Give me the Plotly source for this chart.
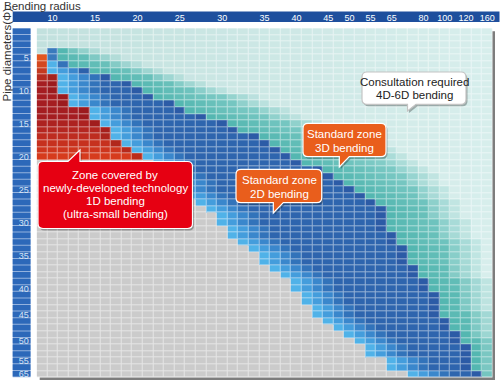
import plotly.graph_objects as go

# ---------------- data ----------------
radius_labels = ["10", "15", "20", "25", "30", "35", "40", "45", "50", "55", "65", "80", "100", "120", "160"]
radius_cols = [1, 5, 9, 13, 17, 21, 24, 27, 29, 31, 33, 36, 38, 40, 42]
diameter_labels = ["5", "10", "15", "20", "25", "30", "35", "40", "45", "50", "55", "65"]
diameter_rows = [4, 9, 14, 19, 24, 29, 34, 39, 43, 47, 50, 52]

# zone boundaries per grid row (rows 0..52); None = whole row in consultation zone
red_end = [0, 0, 0, 0, 1, 1, 1, 2, 2, 2, 3, 3, 5, 5, 6, 7, 7, 8, 9, 10] + [0] * 33
blue_start = [None, None, None, 1, 1, 1, 1, 2, 2, 2, 3, 3, 5, 5, 6, 7, 7, 8, 9, 10,
              11, 11, 12, 13, 13, 14, 15, 16, 17, 17, 18, 18, 19, 20, 21, 21, 22, 23, 24, 24,
              25, 25, 26, 26, 27, 28, 29, 30, 31, 31, 33, 33, 35]
teal_start = [None, None, None, 2, 2, 3, 5, 7, 9, 10, 11, 13, 14, 16, 18, 19, 21, 22, 23, 24,
              25, 27, 28, 29, 30, 31, 32, 33, 33, 33, 33, 34, 34, 35, 35, 35, 36, 36, 37, 37,
              38, 38, 38, 38, 39, 39, 40, 40, 41, 41, 41, 41, 42]
pale_start = [None, None, None, 6, 8, 10, 12, 14, 16, 18, 21, 22, 24, 25, 27, 29, 31, 33, 34, 35,
              36, 37, 38, 38, 39, 39, 40, 40, 40, 41, 41, 41, 42, 42, 42, 42, 42, 42, 43, 43,
              43, 43, 43, 44, 44, 44, 44, 45, 45, 45, 45, 45, 45]

# ---------------- geometry / style ----------------
W, H = 501, 385
GX0, GX1 = 36.7, 492.5
GY0, GY1 = 28.3, 377.5
NCOL, NROW = 43, 53
RH = (GY1 - GY0) / NROW
FONT = "Liberation Sans, Arial, sans-serif"


def P(x, y):
    return x / W, 1 - y / H


def rgb(h):
    h = h.lstrip('#')
    return tuple(int(h[i:i + 2], 16) for i in (0, 2, 4))


def mix(a, b, t):
    t = max(0.0, min(1.0, t))
    A, B = rgb(a), rgb(b)
    return '#%02x%02x%02x' % tuple(round(A[i] + (B[i] - A[i]) * t) for i in range(3))


PALE_L, PALE_R = '#c2e1de', '#d7eeec'
TEAL_DEEP, TEAL_LIGHT = '#54b7b1', '#82ccc7'
BLUES = ['#50b2e8', '#449ddc', '#3a87cc', '#3273ba', '#2e65ae']
BLUE_EDGE = '#2a55a1'
GREY = '#cbcbcb'
ORANGE, DARK_RED, BRIGHT_RED, EDGE_RED = '#e2561f', '#a51d21', '#d63b1d', '#8a1418'

first_red = min(r for r in range(NROW) if red_end[r] > 0)


def pale(c):
    return mix(PALE_L, PALE_R, c / (NCOL - 1))


def red(r, c):
    if r <= first_red + 4:
        base = mix(ORANGE, DARK_RED, (r - first_red) / 4)
    elif r <= 13:
        base = DARK_RED
    else:
        base = mix(DARK_RED, BRIGHT_RED, (r - 13) / 6)
    if red_end[r] > 1 and c == red_end[r] - 1:
        base = mix(base, EDGE_RED, 0.35)
    return base


def cell_color(r, c):
    if blue_start[r] is None:
        return pale(c)
    if c < red_end[r]:
        return red(r, c)
    if c < blue_start[r]:
        return GREY if r >= first_red else pale(c)
    if c < teal_start[r]:
        d = c - blue_start[r]
        col = BLUES[min(d, len(BLUES) - 1)]
        if c == teal_start[r] - 1:
            col = mix(col, BLUE_EDGE, 0.6)
        return col
    t = c - teal_start[r]
    base = mix(TEAL_DEEP, TEAL_LIGHT, t / 7)
    p = pale_start[r] - c
    if p <= 0:
        return pale(c)
    if p <= 3:
        return mix(base, pale(c), (4 - p) / 4)
    return base


grid = [[cell_color(r, c) for c in range(NCOL)] for r in range(NROW)]
under = [[mix(col, '#ffffff', 0.5) for col in row] for row in grid]


def discrete(g):
    uniq = sorted(set(col for row in g for col in row))
    idx = {c: i for i, c in enumerate(uniq)}
    n = len(uniq)
    cs = []
    for i, c in enumerate(uniq):
        cs.append([i / n, c])
        cs.append([(i + 1) / n, c])
    z = [[idx[c] + 0.5 for c in row] for row in g]
    return z, cs, n


fig = go.Figure()
for g, gap in ((under, 0), (grid, 1)):
    z, cs, n = discrete(g)
    fig.add_trace(go.Heatmap(z=z, x=list(range(NCOL)), y=list(range(NROW)), colorscale=cs,
                             zmin=0, zmax=n, showscale=False, xgap=gap, ygap=gap,
                             hoverinfo='skip'))

# tick pointer triangles under the top bar
fig.add_trace(go.Scatter(x=radius_cols, y=[-1.05] * len(radius_cols), mode='markers',
                         marker=dict(symbol='triangle-down', size=7, color='#1e4f9d'),
                         cliponaxis=False, hoverinfo='skip'))

shapes = []
# top bar
x0, y0 = P(12.7, 11.5)
x1, y1 = P(499.5, 22)
shapes.append(dict(type='rect', xref='paper', yref='paper', x0=x0, y0=y0, x1=x1, y1=y1,
                   fillcolor='#1e4f9d', line=dict(width=0), layer='below'))
# left bar background + row segments
lx0, _ = P(12.7, 0)
lx1, _ = P(30.5, 0)
shapes.append(dict(type='rect', xref='paper', yref='y', x0=lx0, x1=lx1, y0=-0.5, y1=NROW - 0.5,
                   fillcolor='#93b2de', line=dict(width=0), layer='below'))
for r in range(NROW):
    shapes.append(dict(type='rect', xref='paper', yref='y', x0=lx0, x1=lx1,
                       y0=r - 0.5, y1=r + 0.5 - 1.0 / RH,
                       fillcolor='#2c68b9', line=dict(width=0), layer='below'))
# grid drop shadow
sx0, sy0 = P(GX1, GY0 + 3)
sx1, sy1 = P(GX1 + 2.5, GY1 + 2.5)
shapes.append(dict(type='rect', xref='paper', yref='paper', x0=sx0, y0=sy0, x1=sx1, y1=sy1,
                   fillcolor='#7d7d7d', line=dict(width=0)))
bx0, by0 = P(GX0 + 3, GY1)
shapes.append(dict(type='rect', xref='paper', yref='paper', x0=bx0, y0=by0, x1=sx1, y1=sy1,
                   fillcolor='#7d7d7d', line=dict(width=0)))


def bubble_path(box, tail, r=5, dx=0.0, dy=0.0):
    x0, y0, x1, y1 = box
    side, a, b, tx, ty = tail

    def f(x, y):
        X, Y = P(x + dx, y + dy)
        return f"{X:.5f},{Y:.5f}"

    d = f"M{f(x0 + r, y0)}"
    if side == 'top':
        d += f" L{f(a, y0)} L{f(tx, ty)} L{f(b, y0)}"
    d += f" L{f(x1 - r, y0)} Q{f(x1, y0)} {f(x1, y0 + r)} L{f(x1, y1 - r)} Q{f(x1, y1)} {f(x1 - r, y1)}"
    if side == 'bottom':
        d += f" L{f(b, y1)} L{f(tx, ty)} L{f(a, y1)}"
    d += f" L{f(x0 + r, y1)} Q{f(x0, y1)} {f(x0, y1 - r)} L{f(x0, y0 + r)} Q{f(x0, y0)} {f(x0 + r, y0)} Z"
    return d


callouts = [
    dict(box=(38, 161.5, 192.5, 228.5), tail=('top', 68, 80, 80, 150), fill='#e60012', edge='#ffffff',
         ink='#ffffff', lines=['Zone covered by', 'newly-developed technology', '1D bending',
                               '(ultra-small bending)'], cx=115, ys=[175, 188, 201, 214]),
    dict(box=(303, 123.3, 386, 156.7), tail=('bottom', 339.3, 349.3, 339.3, 167), fill='#e95e1c',
         edge='#ffffff', ink='#ffffff', lines=['Standard zone', '3D bending'], cx=344.5, ys=[134.5, 148]),
    dict(box=(236, 169.3, 321.7, 202.7), tail=('bottom', 273.3, 283.3, 273.3, 213), fill='#e95e1c',
         edge='#ffffff', ink='#ffffff', lines=['Standard zone', '2D bending'], cx=279, ys=[180, 193.5]),
    dict(box=(362, 72, 466, 104.3), tail=('bottom', 407.5, 416, 407.5, 111), fill='#ffffff',
         edge='#c4c4c4', ink='#222222', lines=['Consultation required', '4D-6D bending'], cx=414, ys=[81.5, 95]),
]

annotations = []
for cb in callouts:
    shapes.append(dict(type='path', xref='paper', yref='paper',
                       path=bubble_path(cb['box'], cb['tail'], dx=1.5, dy=2),
                       fillcolor='rgba(0,0,0,0.28)', line=dict(width=0)))
    shapes.append(dict(type='path', xref='paper', yref='paper',
                       path=bubble_path(cb['box'], cb['tail']),
                       fillcolor=cb['fill'], line=dict(color=cb['edge'], width=1.2)))
    for txt, yy in zip(cb['lines'], cb['ys']):
        ax, ay = P(cb['cx'], yy)
        annotations.append(dict(x=ax, y=ay, xref='paper', yref='paper', text=txt, showarrow=False,
                                xanchor='center', yanchor='middle',
                                font=dict(family=FONT, size=11.5, color=cb['ink'])))

tx, ty = P(2, 6)
annotations.append(dict(x=tx, y=ty, xref='paper', yref='paper', text='Bending radius', showarrow=False,
                        xanchor='left', yanchor='middle', font=dict(family=FONT, size=11.5, color='#333333')))
vx, vy = P(6.5, 55)
annotations.append(dict(x=vx, y=vy, xref='paper', yref='paper', text='Pipe diameters(Φ)', showarrow=False,
                        textangle=-90, xanchor='center', yanchor='middle',
                        font=dict(family=FONT, size=11.5, color='#333333')))

fig.update_layout(
    template='none',
    width=W, height=H, autosize=False,
    margin=dict(l=0, r=0, t=0, b=0, pad=0),
    paper_bgcolor='white', plot_bgcolor='white',
    showlegend=False, hovermode=False,
    font=dict(family=FONT),
    xaxis=dict(domain=[GX0 / W, GX1 / W], range=[-0.5, NCOL - 0.5], side='top',
               tickmode='array', tickvals=radius_cols, ticktext=radius_labels,
               tickfont=dict(family=FONT, size=9, color='white'), ticks='', ticklabelstandoff=5,
               showgrid=False, zeroline=False, showline=False, automargin=False, fixedrange=True),
    yaxis=dict(domain=[1 - GY1 / H, 1 - GY0 / H], range=[NROW - 0.5, -0.5],
               tickmode='array', tickvals=diameter_rows, ticktext=diameter_labels,
               tickfont=dict(family=FONT, size=9, color='#d8e4f5'), ticks='', ticklabelstandoff=7,
               showgrid=False, zeroline=False, showline=False, automargin=False, fixedrange=True),
    shapes=shapes,
    annotations=annotations,
)

fig.write_html("out.html", config={'displayModeBar': False},
               post_script="document.body.style.margin='0px';document.body.style.overflow='hidden';")
